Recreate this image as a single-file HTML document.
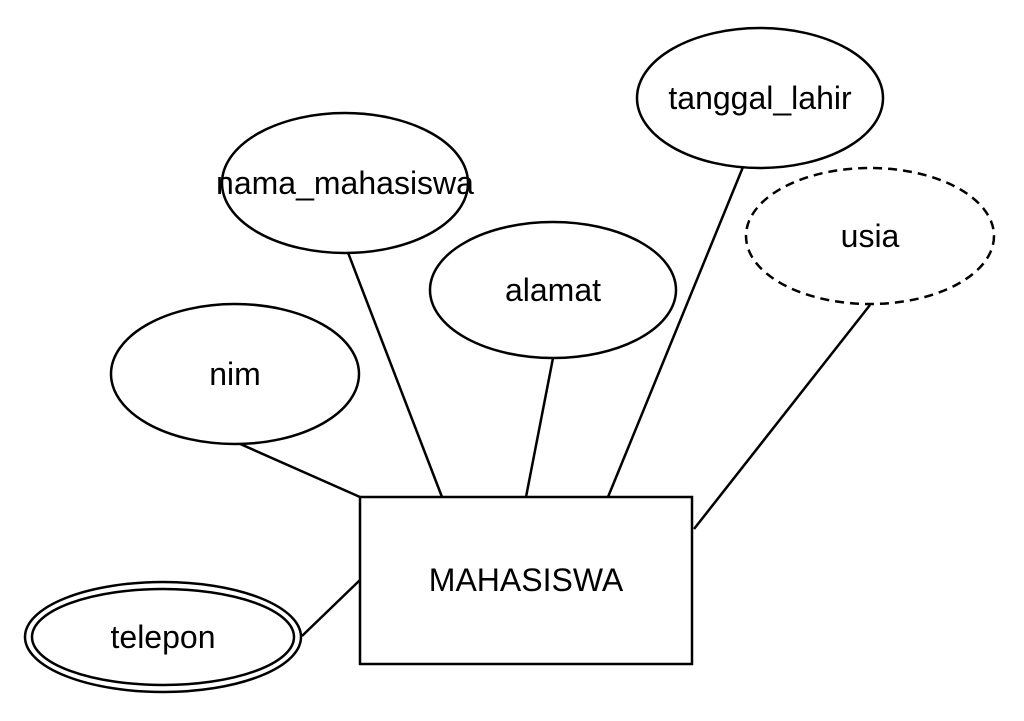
<!DOCTYPE html>
<html><head><meta charset="utf-8"><style>
html,body{margin:0;padding:0;background:#fff;}
svg{display:block;}
text{font-family:"Liberation Sans",sans-serif;font-size:32px;fill:#000;text-anchor:middle;dominant-baseline:central;}
</style></head><body>
<svg width="1024" height="721" viewBox="0 0 1024 721" xmlns="http://www.w3.org/2000/svg">
<g stroke="#000" stroke-width="2.5" fill="none">
<line x1="238" y1="443" x2="360" y2="497"/>
<line x1="347" y1="250" x2="442" y2="497"/>
<line x1="553" y1="358" x2="526" y2="497"/>
<line x1="743" y1="167" x2="608" y2="497"/>
<line x1="870" y1="305" x2="694" y2="529"/>
<line x1="302" y1="636" x2="360" y2="580"/>
<rect x="360" y="497" width="332" height="167" fill="#fff"/>
<ellipse cx="760" cy="98" rx="123" ry="70" fill="#fff"/>
<ellipse cx="345" cy="183" rx="123" ry="70" fill="#fff"/>
<ellipse cx="553" cy="290" rx="123" ry="68" fill="#fff"/>
<ellipse cx="870" cy="236" rx="124" ry="68" fill="#fff" stroke-dasharray="9,6"/>
<ellipse cx="235" cy="374" rx="124" ry="70" fill="#fff"/>
<ellipse cx="163" cy="637" rx="138" ry="55" fill="#fff"/>
<ellipse cx="163" cy="637" rx="131" ry="48" fill="#fff"/>
</g>
<text x="526" y="580">MAHASISWA</text>
<text x="760" y="98">tanggal_lahir</text>
<text x="345" y="183">nama_mahasiswa</text>
<text x="553" y="290">alamat</text>
<text x="870" y="236">usia</text>
<text x="235" y="374">nim</text>
<text x="163" y="637">telepon</text>
</svg>
</body></html>
